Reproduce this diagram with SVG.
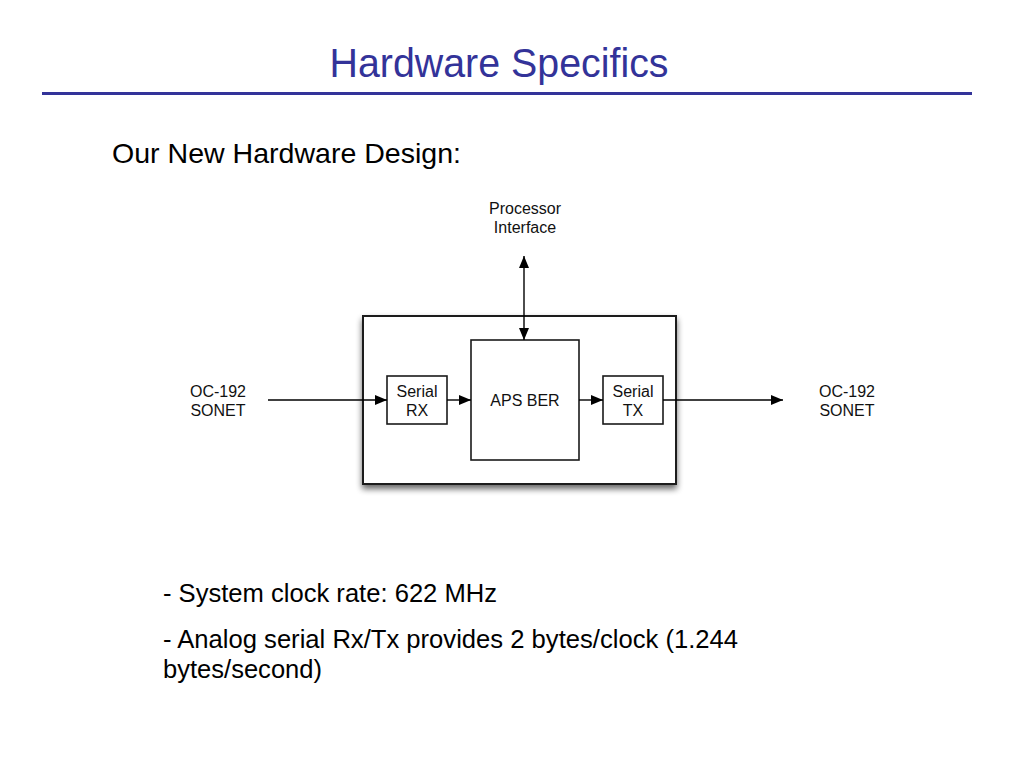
<svg xmlns="http://www.w3.org/2000/svg" width="1024" height="768" viewBox="0 0 1024 768">
<style>
.t{font-family:"Liberation Sans",Arial,sans-serif;fill:#000}
.lbl{font-family:"Liberation Sans",Arial,sans-serif;font-size:16px;fill:#111;text-anchor:middle}
.box{fill:#fff;stroke:#1a1a1a;stroke-width:1.6}
.conn{stroke:#000;stroke-width:1.4;fill:none}
</style>
<defs>
<marker id="ah" viewBox="0 0 12 10" refX="12" refY="5" markerWidth="12" markerHeight="10" markerUnits="userSpaceOnUse" orient="auto-start-reverse">
<path d="M0,0 L12,5 L0,10 Z" fill="#000"/>
</marker>
<filter id="sh" x="-10%" y="-10%" width="125%" height="130%">
<feGaussianBlur in="SourceAlpha" stdDeviation="3"/>
<feOffset dx="0" dy="4" result="b"/>
<feComponentTransfer><feFuncA type="linear" slope="0.6"/></feComponentTransfer>
<feMerge><feMergeNode/><feMergeNode in="SourceGraphic"/></feMerge>
</filter>
</defs>
<rect width="1024" height="768" fill="#fff"/>
<text class="t" x="499" y="77" font-size="40" style="fill:#333399" text-anchor="middle" textLength="339" lengthAdjust="spacingAndGlyphs">Hardware Specifics</text>
<rect x="42" y="92" width="930" height="3" fill="#333399"/>
<text class="t" x="112" y="163" font-size="28" textLength="349" lengthAdjust="spacingAndGlyphs">Our New Hardware Design:</text>

<g id="outer"><rect x="363" y="316" width="313" height="168" fill="#fff" stroke="#1a1a1a" stroke-width="2" filter="url(#sh)"/></g>
<g id="serial-rx"><rect class="box" x="387" y="376" width="60" height="48"/><text class="lbl" x="417" y="397">Serial</text><text class="lbl" x="417" y="416">RX</text></g>
<g id="aps-ber"><rect class="box" x="471" y="340" width="108" height="120"/><text class="lbl" x="525" y="406">APS BER</text></g>
<g id="serial-tx"><rect class="box" x="603" y="376" width="60" height="48"/><text class="lbl" x="633" y="397">Serial</text><text class="lbl" x="633" y="416">TX</text></g>
<g id="proc"><text class="lbl" x="525" y="214">Processor</text><text class="lbl" x="525" y="233">Interface</text></g>
<g id="in-sonet"><text class="lbl" x="218" y="397">OC-192</text><text class="lbl" x="218" y="416">SONET</text></g>
<g id="out-sonet"><text class="lbl" x="847" y="397">OC-192</text><text class="lbl" x="847" y="416">SONET</text></g>

<g id="connectors">
<line class="conn" x1="268" y1="400" x2="387" y2="400" marker-end="url(#ah)"/>
<line class="conn" x1="447" y1="400" x2="471" y2="400" marker-end="url(#ah)"/>
<line class="conn" x1="579" y1="400" x2="603" y2="400" marker-end="url(#ah)"/>
<line class="conn" x1="663" y1="400" x2="783" y2="400" marker-end="url(#ah)"/>
<line class="conn" x1="524" y1="256" x2="524" y2="340" marker-start="url(#ah)" marker-end="url(#ah)"/>
</g>

<text class="t" x="163" y="602" font-size="25" textLength="334" lengthAdjust="spacingAndGlyphs">- System clock rate: 622 MHz</text>
<text class="t" x="163" y="648" font-size="25" textLength="575" lengthAdjust="spacingAndGlyphs">- Analog serial Rx/Tx provides 2 bytes/clock (1.244</text>
<text class="t" x="163" y="678" font-size="25" textLength="159" lengthAdjust="spacingAndGlyphs">bytes/second)</text>
</svg>
